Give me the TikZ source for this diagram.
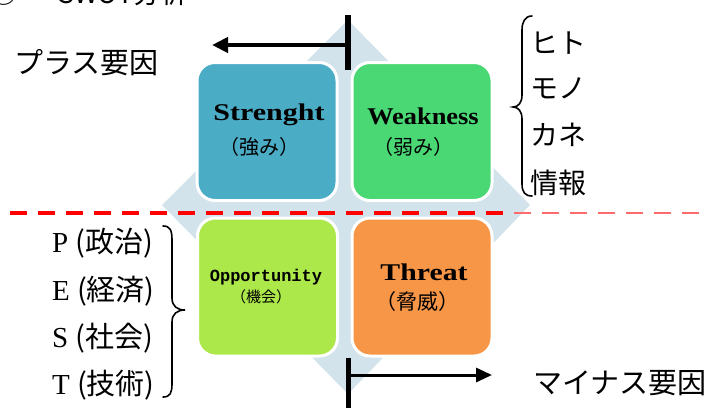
\documentclass[tikz,border=0pt]{standalone}
\usepackage{graphicx}
\usepackage{fontspec}
\setmainfont{Liberation Serif}
\newfontfamily\jpfont{Noto Sans CJK JP}
\newfontfamily\mymono{Liberation Mono}
\usetikzlibrary{arrows.meta}
\definecolor{diam}{HTML}{D2E3EB}
\definecolor{sblue}{HTML}{4BACC6}
\definecolor{wgreen}{HTML}{4AD874}
\definecolor{olime}{HTML}{ADE84A}
\definecolor{torange}{HTML}{F79646}
\definecolor{dashred}{HTML}{FF0000}
\definecolor{dashpink}{HTML}{FF6A6A}
\begin{document}
\begin{tikzpicture}[x=1pt,y=-1pt,
  quad/.style={draw=white, line width=3pt, rounded corners=18pt, inner sep=0pt, minimum width=140pt, minimum height=138pt},
  jplabel/.style={font=\jpfont\fontsize{29}{32}\selectfont, inner sep=0pt, anchor=west},
  jpright/.style={font=\jpfont\fontsize{28}{31}\selectfont, inner sep=0pt, anchor=west},
  boxen/.style={font=\bfseries\fontsize{24}{26}\selectfont, inner sep=0pt},
  boxjp/.style={font=\jpfont\fontsize{20}{22}\selectfont, inner sep=0pt},
  pest/.style={font=\fontsize{29}{32}\selectfont, inner sep=0pt, anchor=west},
  bracepath/.style={line width=1.6pt, line cap=round},
  reddash/.style={dash pattern=on 17pt off 11pt}
]
\useasboundingbox (0,0) rectangle (708,407);
% background diamond
\fill[diam] (348,20) -- (530,205) -- (348,394) -- (162,205) -- cycle;
% quadrants
\node[quad, fill=sblue] (S) at (267,131.5) {};
\node[quad, fill=wgreen] (W) at (422,131.5) {};
\node[quad, fill=olime] (O) at (267.5,287) {};
\node[quad, fill=torange] (T) at (422,287) {};
% quadrant texts
\node[boxen] (s1) at (269,115) {\scalebox{1.25}[1]{Strenght}};
\node[boxjp] (s2) at (259,147) {（強み）};
\node[boxen] (w1) at (423,116) {\scalebox{1.1}[1]{Weakness}};
\node[boxjp] (w2) at (413,147) {（弱み）};
\node[font=\mymono\bfseries\fontsize{17}{19}\selectfont, inner sep=0pt] (o1) at (266,277) {Opportunity};
\node[font=\jpfont\fontsize{15}{17}\selectfont, inner sep=0pt] (o2) at (261,297) {（機会）};
\node[boxen] (t1) at (424,272) {\scalebox{1.24}[1]{Threat}};
\node[font=\jpfont\fontsize{21}{23}\selectfont, inner sep=0pt] (t2) at (417,302) {（脅威）};
% dashed separator
\coordinate (d1) at (10,213);
\coordinate (d2) at (506,213);
\coordinate (d3) at (514,213);
\coordinate (d4) at (702,213);
\draw[dashred, line width=4pt, reddash] (d1) -- (d2);
\draw[dashpink, line width=2.5pt, reddash] (d3) -- (d4);
% top arrow
\coordinate (tv1) at (348,15);
\coordinate (tv2) at (348,70);
\coordinate (ta) at (348,45);
\coordinate (tb) at (212,45);
\draw[line width=6pt] (tv1) -- (tv2);
\draw[line width=4pt, -{Triangle[length=16pt,width=15pt]}] (ta) -- (tb);
% bottom arrow
\coordinate (bv1) at (348,358);
\coordinate (bv2) at (348,410);
\coordinate (ba) at (348,375);
\coordinate (bb) at (492,375);
\draw[line width=5pt] (bv1) -- (bv2);
\draw[line width=3pt, -{Triangle[length=16pt,width=14pt]}] (ba) -- (bb);
% labels
\node[jplabel] (plus) at (14,63) {プラス要因};
\node[jplabel] (minus) at (533,383) {マイナス要因};
\node[jpright] (hito) at (530,43) {ヒト};
\node[jpright] (mono) at (530,88) {モノ};
\node[jpright] (kane) at (530,135) {カネ};
\node[jpright] (joho) at (530,183) {情報};
\node[pest] (P) at (52,243) {P {\jpfont (政治)}};
\node[pest] (E) at (52,291) {E {\jpfont (経済)}};
\node[pest] (Sx) at (52,338) {S {\jpfont (社会)}};
\node[pest] (Tx) at (52,385) {T {\jpfont (技術)}};
% braces
\draw[bracepath] (163,226) .. controls (170,226) and (172,230) .. (172,240) -- (172,298) .. controls (172,306) and (177,310) .. (185,310) .. controls (177,310) and (172,314) .. (172,322) -- (172,384) .. controls (172,393) and (170,397) .. (163,397);
\draw[bracepath] (532,16) .. controls (525,16) and (522,22) .. (522,30) -- (522,95) .. controls (522,103) and (518,107) .. (513,107) .. controls (518,107) and (522,111) .. (522,119) -- (522,184) .. controls (522,192) and (525,196) .. (532,196);
% cut-off title at top
\node[font=\jpfont\fontsize{27}{30}\selectfont, inner sep=0pt, anchor=base west] (ttl) at (58,3) {SWOT分析};
\node[font=\jpfont\fontsize{27}{30}\selectfont, inner sep=0pt, anchor=base west] (bul) at (-10,3) {○};
\end{tikzpicture}
\end{document}
